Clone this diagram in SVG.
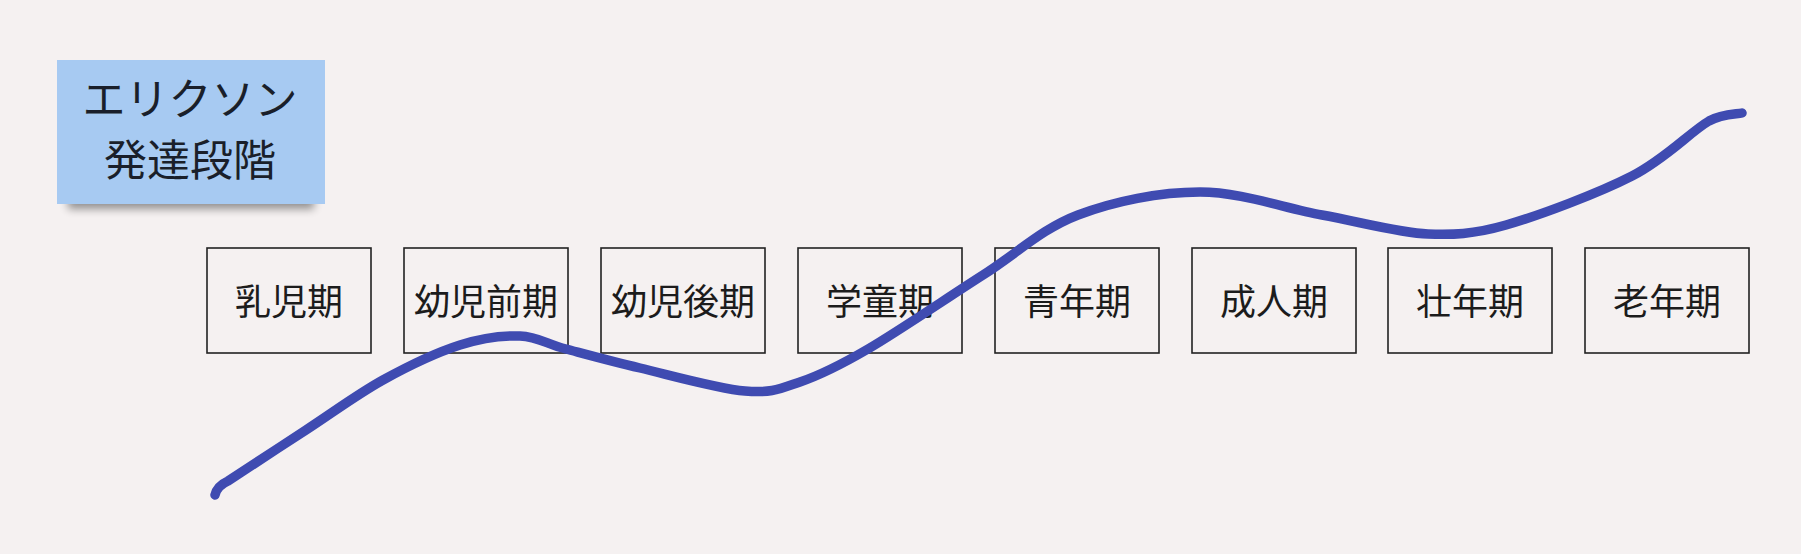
<svg xmlns="http://www.w3.org/2000/svg" width="1801" height="554" viewBox="0 0 1801 554">
<defs>
<style>
.bg{fill:#F5F1F1}
.box{fill:none;stroke:#222;stroke-width:1.6}
.lbl{font-family:"Noto Sans CJK JP","Noto Sans CJK SC",sans-serif;font-size:36px;fill:#1c1c1c;text-anchor:middle}
.title{font-family:"Noto Sans CJK JP","Noto Sans CJK SC",sans-serif;font-size:43px;fill:#1a1f2a;text-anchor:middle}
.curve{fill:none;stroke:#3F4BB1;stroke-width:9.5;stroke-linecap:round;stroke-linejoin:round}
</style>
<filter id="blur" x="-20%" y="-100%" width="140%" height="300%"><feGaussianBlur stdDeviation="4"/></filter>
</defs>
<rect class="bg" x="0" y="0" width="1801" height="554"/>
<g id="sticky">
<rect x="68" y="192" width="246" height="17" fill="#000" opacity="0.4" filter="url(#blur)"/>
<rect x="57" y="60" width="268" height="144" fill="#A7CAF2"/>
<text class="title" x="190" y="115">エリクソン</text>
<text class="title" x="190" y="176">発達段階</text>
</g>
<g id="node1"><rect class="box" x="207" y="248" width="164" height="105"/><text class="lbl" x="289" y="315">乳児期</text></g>
<g id="node2"><rect class="box" x="404" y="248" width="164" height="105"/><text class="lbl" x="486" y="315">幼児前期</text></g>
<g id="node3"><rect class="box" x="601" y="248" width="164" height="105"/><text class="lbl" x="683" y="315">幼児後期</text></g>
<g id="node4"><rect class="box" x="798" y="248" width="164" height="105"/><text class="lbl" x="880" y="315">学童期</text></g>
<g id="node5"><rect class="box" x="995" y="248" width="164" height="105"/><text class="lbl" x="1077" y="315">青年期</text></g>
<g id="node6"><rect class="box" x="1192" y="248" width="164" height="105"/><text class="lbl" x="1274" y="315">成人期</text></g>
<g id="node7"><rect class="box" x="1388" y="248" width="164" height="105"/><text class="lbl" x="1470" y="315">壮年期</text></g>
<g id="node8"><rect class="box" x="1585" y="248" width="164" height="105"/><text class="lbl" x="1667" y="315">老年期</text></g>
<g id="connectors">
<path class="curve" d="M215,495 Q217,486 228,481 C241,472.5 280.2,446.8 306,430 C331.8,413.2 357.3,394.2 383,380 C408.7,365.8 437.2,352.3 460,345 C482.8,337.7 502.3,335.3 520,336 C537.7,336.7 546,343.7 566,349 C586,354.3 610.2,361 640,368 C669.8,375 718.3,388.7 745,391 C771.7,393.3 779.5,389 800,382 C820.5,375 837.5,366.8 868,349 C898.5,331.2 948,297.3 983,275 C1018,252.7 1041.8,228.8 1078,215 C1114.2,201.2 1159.3,192 1200,192 C1240.7,192 1283.7,208 1322,215 C1360.3,222 1400,233 1428,234 C1452,234.8 1472.3,234.7 1506,225 C1539.7,215.3 1598.2,193.3 1632,176 C1665.8,158.7 1690.7,131.5 1709,121 C1722,114 1736.5,114.3 1742,113"/>
</g>
</svg>
